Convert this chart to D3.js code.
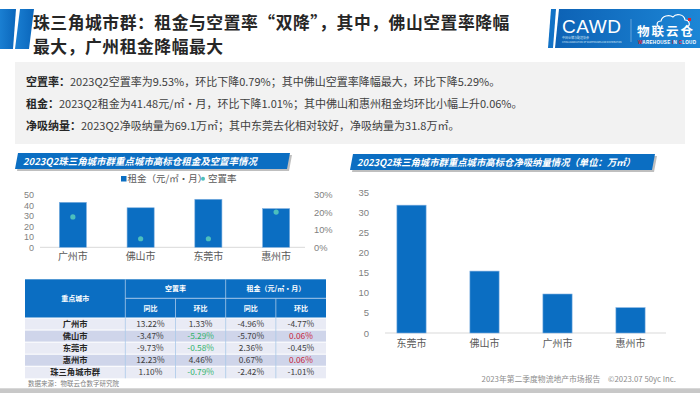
<!DOCTYPE html>
<html>
<head>
<meta charset="utf-8">
<script src="https://cdn.jsdelivr.net/npm/d3@7"></script>
<style>
  body { margin: 0; background: #fff; }
  svg { display: block; font-family: "Noto Sans CJK SC", "Noto Sans", sans-serif; }
</style>
</head>
<body>
<script>
// page size
const width = 700;
const height = 393;

// left chart: rent + vacancy by city
const rentCities = ['广州市', '佛山市', '东莞市', '惠州市'];
const rentValues = [43.0, 37.8, 45.9, 37.0];
const vacancyValues = [17.4, 4.9, 4.9, 20.2];
const rentTicks = [0, 10, 20, 30, 40, 50];
const vacancyTicks = [0, 10, 20, 30];

// right chart: net absorption (万㎡)
const absorbCities = ['东莞市', '佛山市', '广州市', '惠州市'];
const absorbValues = [31.8, 15.4, 9.7, 6.3];
const absorbTicks = [0, 5, 10, 15, 20, 25, 30, 35];

// table
const tableCities = ['广州市', '佛山市', '东莞市', '惠州市', '珠三角城市群'];
const vacYoY = ['13.22%', '-3.47%', '-9.73%', '12.23%', '1.10%'];
const vacQoQ = ['1.33%', '-5.29%', '-0.58%', '4.46%', '-0.79%'];
const rentYoY = ['-4.96%', '-5.70%', '2.36%', '0.67%', '-2.42%'];
const rentQoQ = ['-4.77%', '0.06%', '-0.45%', '0.06%', '-1.01%'];

const blue = '#0b6ec2';
const green = '#33b36b';
const red = '#c8243a';
const tickFont = '"Liberation Sans", Arial, sans-serif';

const svg = d3.select('body')
  .append('svg')
  .attr('width', width)
  .attr('height', height);

const defs = svg.append('defs');
const grad = defs.append('linearGradient').attr('id', 'logoGrad');
grad.append('stop').attr('offset', '0%').attr('stop-color', '#0d62b5');
grad.append('stop').attr('offset', '100%').attr('stop-color', '#1c86d6');
const grad2 = defs.append('linearGradient').attr('id', 'stripeGrad');
grad2.append('stop').attr('offset', '0%').attr('stop-color', '#1a7fd2');
grad2.append('stop').attr('offset', '100%').attr('stop-color', '#0a66bb');

// ---- header ----
svg.append('polygon')
  .attr('points', '0,9 16,9 13,49 0,49')
  .attr('fill', 'url(#stripeGrad)');
svg.append('polygon')
  .attr('points', '20,9 34,9 29,49 15,49')
  .attr('fill', 'url(#stripeGrad)');

const titleLines = ['珠三角城市群：租金与空置率“双降”，其中，佛山空置率降幅', '最大，广州租金降幅最大'];
svg.selectAll('text.title')
  .data(titleLines)
  .enter()
  .append('text')
  .attr('class', 'title')
  .attr('x', 33)
  .attr('y', (d, i) => 28.5 + i * 24.6)
  .attr('font-size', '16.8px')
  .attr('letter-spacing', '0.55px')
  .attr('font-weight', 'bold')
  .attr('fill', '#262626')
  .text(d => d);

// logo block
const logo = svg.append('g');
logo.append('polygon').attr('points', '551,9 556,9 553,48 548,48').attr('fill', '#1272c6');
logo.append('polygon').attr('points', '559,9 700,9 700,48 555,48').attr('fill', 'url(#logoGrad)');
logo.append('text')
  .attr('x', 562).attr('y', 33)
  .attr('font-family', 'Liberation Sans, sans-serif')
  .attr('font-size', '19px')
  .attr('fill', '#fff')
  .attr('textLength', 59)
  .text('CAWD');
logo.append('text')
  .attr('x', 562).attr('y', 39)
  .attr('font-size', '3px').attr('fill', '#dce9f7')
  .text('中国仓储与配送协会');
logo.append('text')
  .attr('x', 562).attr('y', 43)
  .attr('font-size', '2.2px').attr('fill', '#dce9f7')
  .text('CHINA ASSOCIATION OF WAREHOUSES AND DISTRIBUTION');
logo.append('line')
  .attr('x1', 631).attr('x2', 631).attr('y1', 19).attr('y2', 42)
  .attr('stroke', '#9cc4ea').attr('stroke-width', 0.6);
logo.append('path')
  .attr('d', 'M660,27 C656,27 656,21 661,21 C662,16 669,14 673,17 C676,13 684,14 685,20 C690,20 691,27 686,27')
  .attr('fill', 'none').attr('stroke', '#fff').attr('stroke-width', 1.2);
logo.append('rect').attr('x', 688).attr('y', 18).attr('width', 3).attr('height', 3).attr('fill', '#e0202b');
logo.append('text')
  .attr('x', 637).attr('y', 36)
  .attr('font-size', '12.5px').attr('font-weight', 'bold').attr('fill', '#fff')
  .attr('textLength', 56)
  .text('物联云仓');
const wic = logo.append('text')
  .attr('x', 638).attr('y', 43.5)
  .attr('font-family', 'Liberation Sans, sans-serif')
  .attr('font-size', '4.6px').attr('font-weight', 'bold').attr('fill', '#fff')
  .attr('textLength', 58);
[['W', '#e0202b'], ['AREHOUSE ', '#fff'], ['I', '#e0202b'], ['N ', '#fff'], ['C', '#e0202b'], ['LOUD', '#fff']]
  .forEach(p => wic.append('tspan').attr('fill', p[1]).text(p[0]));

// ---- summary box ----
svg.append('rect')
  .attr('x', 15).attr('y', 62)
  .attr('width', 670).attr('height', 82)
  .attr('fill', '#f2f2f2');

const summaryLabels = ['空置率：', '租金：', '净吸纳量：'];
const summaryTexts = [
  '2023Q2空置率为9.53%，环比下降0.79%；其中佛山空置率降幅最大，环比下降5.29%。',
  '2023Q2租金为41.48元/㎡·月，环比下降1.01%；其中佛山和惠州租金均环比小幅上升0.06%。',
  '2023Q2净吸纳量为69.1万㎡；其中东莞去化相对较好，净吸纳量为31.8万㎡。'
];
summaryLabels.forEach((lab, i) => {
  const t = svg.append('text')
    .attr('x', 26)
    .attr('y', 86 + i * 22)
    .attr('font-size', '11px')
    .attr('fill', '#404040');
  t.append('tspan').attr('font-weight', 'bold').attr('fill', '#262626').text(lab);
  t.append('tspan').text(summaryTexts[i]);
});

// ---- chart title banners ----
function banner(x0, x1, y0, y1, label, tx, tlen) {
  const sk = 3;
  svg.append('polygon')
    .attr('points', `${x0 + sk + 2},${y0 + 2} ${x1 + 2},${y0 + 2} ${x1 - sk + 2},${y1 + 2} ${x0 + 2},${y1 + 2}`)
    .attr('fill', '#bfbfbf');
  svg.append('polygon')
    .attr('points', `${x0 + sk},${y0} ${x1},${y0} ${x1 - sk},${y1} ${x0},${y1}`)
    .attr('fill', blue);
  svg.append('text')
    .attr('x', tx)
    .attr('y', y0 + (y1 - y0) / 2 + 3.5)
    .attr('font-size', '9.6px')
    .attr('font-weight', 'bold')
    .attr('font-style', 'italic')
    .attr('fill', '#fff')
    .attr('textLength', tlen)
    .attr('lengthAdjust', 'spacingAndGlyphs')
    .text(label);
}
banner(15, 290, 153, 169, '2023Q2珠三角城市群重点城市高标仓租金及空置率情况', 23, 234);
banner(350, 655, 154, 170, '2023Q2珠三角城市群重点城市高标仓净吸纳量情况（单位：万㎡）', 357, 278);

// ---- left chart ----
const xL = d3.scaleBand()
  .domain(rentCities)
  .range([39, 310])
  .paddingInner(0.6)
  .paddingOuter(0.3);
const yL = d3.scaleLinear().domain([0, 50]).range([247.3, 195]);
const yR = d3.scaleLinear().domain([0, 30]).range([247.3, 195]);

svg.append('line')
  .attr('x1', 40).attr('x2', 305)
  .attr('y1', yL(0)).attr('y2', yL(0))
  .attr('stroke', '#d9d9d9');

const axL = svg.append('g')
  .attr('transform', 'translate(34,0)')
  .call(d3.axisLeft(yL).tickValues(rentTicks).tickSize(0).tickPadding(0));
axL.select('.domain').remove();
axL.selectAll('text')
  .attr('font-size', '9px').attr('fill', '#7f7f7f')
  .attr('font-family', tickFont);

const axR = svg.append('g')
  .attr('transform', 'translate(314,0)')
  .call(d3.axisRight(yR).tickValues(vacancyTicks).tickSize(0).tickPadding(0).tickFormat(d => d + '%'));
axR.select('.domain').remove();
axR.selectAll('text')
  .attr('font-size', '9.3px').attr('fill', '#7f7f7f')
  .attr('font-family', tickFont);

svg.selectAll('rect.rent')
  .data(rentValues)
  .enter()
  .append('rect')
  .attr('class', 'rent')
  .attr('x', (d, i) => xL(rentCities[i]))
  .attr('y', d => yL(d))
  .attr('width', xL.bandwidth())
  .attr('height', d => yL(0) - yL(d))
  .attr('fill', blue)
  .attr('stroke', '#7fb0e0')
  .attr('stroke-width', 0.6);

svg.selectAll('circle.vac')
  .data(vacancyValues)
  .enter()
  .append('circle')
  .attr('class', 'vac')
  .attr('cx', (d, i) => xL(rentCities[i]) + xL.bandwidth() / 2)
  .attr('cy', d => yR(d))
  .attr('r', 2.6)
  .attr('fill', '#4cbfbd');

const axLB = svg.append('g')
  .attr('transform', `translate(0,${yL(0) + 6})`)
  .call(d3.axisBottom(xL).tickSize(0).tickPadding(0));
axLB.select('.domain').remove();
axLB.selectAll('text')
  .attr('font-size', '10px').attr('fill', '#595959')
  .attr('font-family', '"Noto Sans CJK SC", sans-serif');

// legend
const legend = svg.append('g').attr('transform', 'translate(121,179)');
legend.append('rect').attr('x', 0).attr('y', -3).attr('width', 5.5).attr('height', 5.5).attr('fill', blue);
legend.append('text').attr('x', 6.5).attr('y', 3.3).attr('font-size', '9.5px').attr('fill', '#595959').text('租金（元/㎡·月）');
legend.append('circle').attr('cx', 82).attr('cy', -0.2).attr('r', 2).attr('fill', '#4cbfbd');
legend.append('text').attr('x', 87).attr('y', 3.3).attr('font-size', '9.5px').attr('fill', '#595959').text('空置率');

// ---- table ----
const colX = d3.scaleLinear().domain([0, 6]).range([25, 326]);
const rowY = d3.scaleBand().domain(tableCities).range([318, 378.3]);
const hTop = 279.3, hMid = 298.3, hBot = 318;

svg.append('rect')
  .attr('x', colX(0)).attr('y', hTop)
  .attr('width', colX(6) - colX(0)).attr('height', hBot - hTop)
  .attr('fill', blue);

const tableRows = tableCities.map((c, i) => [c, vacYoY[i], vacQoQ[i], rentYoY[i], rentQoQ[i]]);
svg.selectAll('rect.row')
  .data(tableRows)
  .enter()
  .append('rect')
  .attr('class', 'row')
  .attr('x', colX(0))
  .attr('y', d => rowY(d[0]))
  .attr('width', colX(6) - colX(0))
  .attr('height', rowY.bandwidth())
  .attr('fill', (d, i) => i % 2 ? '#cfd5ea' : '#e9ebf5');

// grid lines
[hBot].concat(tableCities.slice(1).map(c => rowY(c))).forEach(y => {
  svg.append('line').attr('x1', colX(0)).attr('x2', colX(6)).attr('y1', y).attr('y2', y)
    .attr('stroke', '#ffffff').attr('stroke-width', 1);
});
svg.append('line').attr('x1', colX(2)).attr('x2', colX(6)).attr('y1', hMid).attr('y2', hMid)
  .attr('stroke', '#a9c9ea').attr('stroke-width', 1);
[2, 4].forEach(c => {
  svg.append('line').attr('x1', colX(c)).attr('x2', colX(c)).attr('y1', hTop).attr('y2', 378.3)
    .attr('stroke', '#a9c9ea').attr('stroke-width', 0.8);
});
[3, 5].forEach(c => {
  svg.append('line').attr('x1', colX(c)).attr('x2', colX(c)).attr('y1', hMid).attr('y2', 378.3)
    .attr('stroke', '#a9c9ea').attr('stroke-width', 0.8);
});

function headText(x, y, s) {
  svg.append('text')
    .attr('x', x).attr('y', y + 2.5)
    .attr('text-anchor', 'middle')
    .attr('font-size', '7px').attr('font-weight', 'bold').attr('fill', '#fff')
    .text(s);
}
headText(colX(1), (hTop + hBot) / 2, '重点城市');
headText(colX(3), (hTop + hMid) / 2, '空置率');
headText(colX(5), (hTop + hMid) / 2, '租金（元/㎡·月）');
['同比', '环比', '同比', '环比'].forEach((s, i) => headText(colX(2.5 + i), (hMid + hBot) / 2, s));

tableRows.forEach((row, r) => {
  const cy = rowY(row[0]) + rowY.bandwidth() / 2 + 3;
  svg.append('text')
    .attr('x', colX(1)).attr('y', cy)
    .attr('text-anchor', 'middle')
    .attr('font-size', '8.3px').attr('font-weight', 'bold').attr('fill', '#262626')
    .text(row[0]);
  row.slice(1).forEach((v, c) => {
    let col = '#404040';
    if (c === 1 && v.startsWith('-')) col = green;
    if (c === 3 && !v.startsWith('-')) col = red;
    svg.append('text')
      .attr('x', colX(2.5 + c)).attr('y', cy)
      .attr('text-anchor', 'middle')
      .attr('font-size', '8.3px').attr('fill', col)
      .text(v);
  });
});

svg.append('text')
  .attr('x', 28).attr('y', 385.5)
  .attr('font-size', '6.5px').attr('fill', '#7f7f7f')
  .text('数据来源：物联云仓数字研究院');

// ---- right chart ----
const xA = d3.scaleBand()
  .domain(absorbCities)
  .range([375, 667])
  .paddingInner(0.6)
  .paddingOuter(0.3);
const yA = d3.scaleLinear().domain([0, 35]).range([333, 192.3]);

svg.append('line')
  .attr('x1', 385).attr('x2', 666)
  .attr('y1', yA(0)).attr('y2', yA(0))
  .attr('stroke', '#d9d9d9');

const axA = svg.append('g')
  .attr('transform', 'translate(369,0)')
  .call(d3.axisLeft(yA).tickValues(absorbTicks).tickSize(0).tickPadding(0));
axA.select('.domain').remove();
axA.selectAll('text')
  .attr('font-size', '9.5px').attr('fill', '#7f7f7f')
  .attr('font-family', tickFont);

svg.selectAll('rect.absorb')
  .data(absorbValues)
  .enter()
  .append('rect')
  .attr('class', 'absorb')
  .attr('x', (d, i) => xA(absorbCities[i]))
  .attr('y', d => yA(d))
  .attr('width', xA.bandwidth())
  .attr('height', d => yA(0) - yA(d))
  .attr('fill', blue)
  .attr('stroke', '#7fb0e0')
  .attr('stroke-width', 0.6);

const axAB = svg.append('g')
  .attr('transform', `translate(0,${yA(0) + 7})`)
  .call(d3.axisBottom(xA).tickSize(0).tickPadding(0));
axAB.select('.domain').remove();
axAB.selectAll('text')
  .attr('font-size', '10px').attr('fill', '#595959')
  .attr('font-family', '"Noto Sans CJK SC", sans-serif');

// ---- footer ----
svg.append('text')
  .attr('x', 676).attr('y', 382)
  .attr('text-anchor', 'end')
  .attr('font-size', '7.8px').attr('fill', '#8c8c8c')
  .text('2023年第二季度物流地产市场报告　©2023.07 50yc Inc.');

svg.append('rect')
  .attr('x', 0).attr('y', 388.3)
  .attr('width', width).attr('height', height - 388.3)
  .attr('fill', '#c8c8c8');
</script>
</body>
</html>
